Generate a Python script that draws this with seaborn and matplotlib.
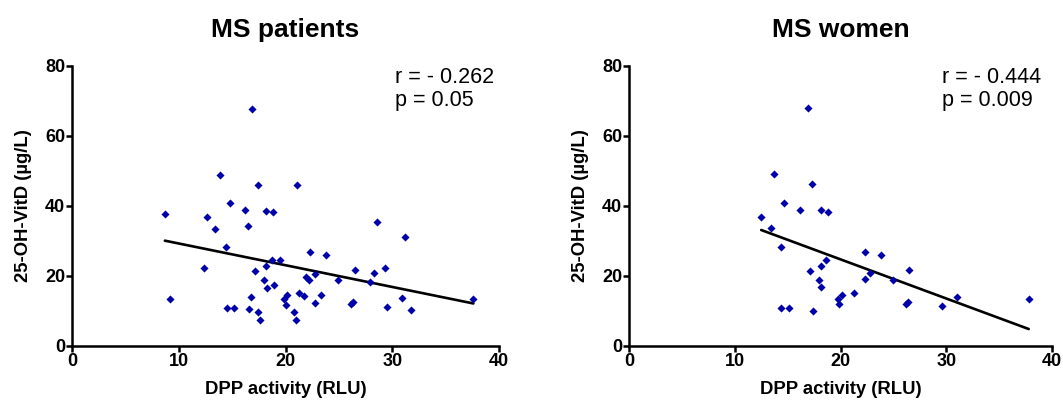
import numpy as np
import pandas as pd
import matplotlib
matplotlib.use("Agg")
import matplotlib.pyplot as plt
import seaborn as sns

# MS patients
pat_dpp = [16.9, 13.9, 17.4, 21.1, 14.8, 16.2, 18.2, 18.8, 8.7, 12.6,
           13.4, 16.5, 14.4, 12.4, 18.7, 19.5, 18.2, 17.1, 18.0, 18.9,
           18.3, 16.8, 20.1, 19.9, 20.0, 21.3, 9.2, 14.5, 15.2, 16.6,
           17.4, 17.6, 20.8, 21.0, 28.6, 31.2, 22.3, 23.8, 26.5, 28.3,
           29.3, 21.9, 22.2, 22.8, 24.9, 27.9, 21.7, 23.3, 22.8, 26.1,
           26.3, 30.9, 29.5, 31.8, 37.6]
pat_vitd = [67.7, 49.0, 46.1, 46.1, 40.8, 38.9, 38.7, 38.3, 37.6, 36.9,
            33.4, 34.2, 28.3, 22.2, 24.5, 24.5, 22.8, 21.3, 18.9, 17.5,
            16.7, 14.1, 14.6, 13.3, 11.7, 15.1, 13.3, 10.8, 10.8, 10.6,
            9.7, 7.5, 9.7, 7.5, 35.5, 31.2, 26.9, 26.0, 21.6, 20.9,
            22.4, 19.8, 19.0, 20.7, 18.8, 18.4, 14.2, 14.5, 12.2, 11.9,
            12.6, 13.8, 11.2, 10.2, 13.3]

# MS women
wom_dpp = [16.9, 13.7, 17.3, 14.7, 16.2, 18.2, 18.8, 12.5, 13.4, 14.4,
           18.65, 18.2, 17.1, 18.0, 18.2, 14.4, 15.1, 17.4, 19.8, 19.9,
           22.3, 23.8, 26.5, 22.3, 22.8, 25.0, 21.3, 20.1, 26.2, 26.4,
           29.6, 31.0, 37.8]
wom_vitd = [67.9, 49.1, 46.2, 40.9, 39.0, 38.8, 38.3, 37.0, 33.6, 28.4,
            24.5, 22.9, 21.5, 19.0, 16.9, 10.9, 10.9, 9.9, 13.5, 11.9,
            27.0, 26.1, 21.8, 19.1, 20.8, 18.8, 15.2, 14.6, 12.0, 12.7,
            11.4, 13.9, 13.5]

titles = ["MS patients", "MS women"]
stats = ["r = - 0.262\np = 0.05", "r = - 0.444\np = 0.009"]
xticks = [0, 10, 20, 30, 40]
yticks = [0, 20, 40, 60, 80]

sns.set_style("ticks", {"axes.edgecolor": "black", "text.color": "black",
                        "xtick.color": "black", "ytick.color": "black",
                        "axes.labelcolor": "black"})
plt.rcParams['font.family'] = ['Liberation Sans', 'DejaVu Sans']

fig = plt.figure(figsize=(10.63, 4.08), dpi=100)
axes = [fig.add_axes([72/1063, 1-346/408, 427/1063, 280/408]),
        fig.add_axes([629/1063, 1-346/408, 423/1063, 280/408])]

datasets = [pd.DataFrame({"dpp": pat_dpp, "vitd": pat_vitd}),
            pd.DataFrame({"dpp": wom_dpp, "vitd": wom_vitd})]

text_x = [0.756, 0.740]
for ax, df, title, st, tx in zip(axes, datasets, titles, stats, text_x):
    sns.regplot(data=df, x="dpp", y="vitd", ax=ax, ci=None, truncate=True,
                marker="D",
                scatter_kws=dict(s=17, color="#0000AA", alpha=1, linewidths=0, zorder=3),
                line_kws=dict(color="black", lw=1.9, zorder=2))
    ax.set_xlim(0, 40)
    ax.set_ylim(0, 80)
    ax.set_xticks(xticks)
    ax.set_yticks(yticks)
    ax.set_xticklabels([str(t) for t in xticks], fontsize=13, fontweight="bold", color="black")
    ax.set_yticklabels([str(t) for t in yticks], fontsize=13, fontweight="bold", color="black")
    ax.tick_params(axis="both", width=1.8, length=4, pad=1, color="black")
    for side in ["left", "bottom"]:
        ax.spines[side].set_linewidth(1.8)
        ax.spines[side].set_color("black")
    sns.despine(ax=ax)
    ax.set_title(title, fontsize=19, fontweight="bold", pad=21, color="black")
    ax.set_xlabel("DPP activity (RLU)", fontsize=13.3, fontweight="bold", labelpad=8, color="black")
    ax.set_ylabel("25-OH-VitD (µg/L)", fontsize=13.3, fontweight="bold", labelpad=9, color="black")
    ax.text(tx, 0.995, st, transform=ax.transAxes, ha="left", va="top",
            fontsize=15.5, linespacing=1.1, color="black")

fig.savefig("out.png", dpi=100)
